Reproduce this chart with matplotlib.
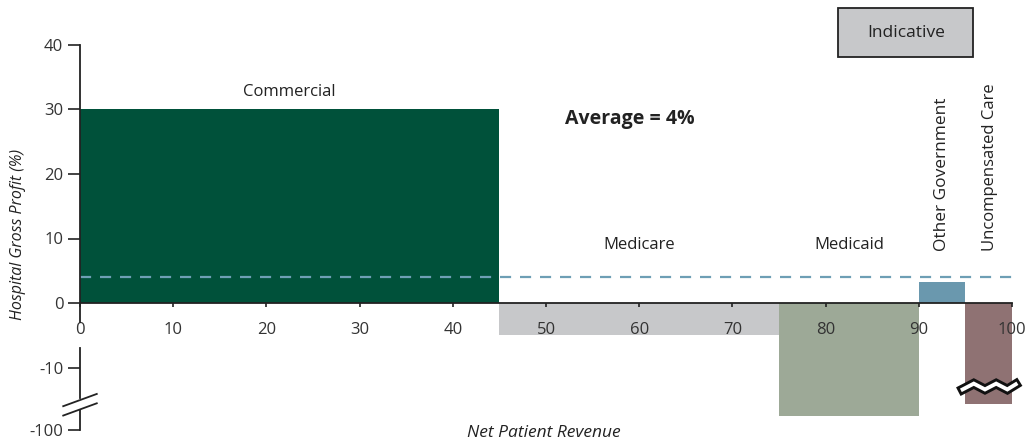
import numpy as np
import matplotlib.pyplot as plt
from matplotlib.patches import Rectangle

plt.rcParams['font.family'] = ['Open Sans', 'DejaVu Sans']

# Payer mix: share of net patient revenue (%) and gross profit (%)
payers = ['Commercial', 'Medicare', 'Medicaid', 'Other Government', 'Uncompensated Care']
shares = [45, 30, 15, 5, 5]
profits = [30, -5, -17.5, 3.2, -100]
colors = ['#00513A', '#C7C8CA', '#9DA997', '#6A98AE', '#8F7273']
average = 4

x_ticks = [0, 10, 20, 30, 40, 50, 60, 70, 80, 90, 100]
y_ticks = [40, 30, 20, 10, 0, -10, -100]

# broken axis: values below the break are drawn at a fixed depth
BREAK_POS = -19.7   # where "-100" sits on the linear scale
BAR_CLIP = -15.6    # where broken bars end


def to_axis(v):
    if v == -100:
        return BREAK_POS
    return v


fig = plt.figure(figsize=(10.26, 4.43), dpi=100)
px_per_unit = 6.45
y_top, y_bot = 42, -20.6
top_px = 303 - y_top * px_per_unit
bot_px = 303 - y_bot * px_per_unit
ax = fig.add_axes([80 / 1026, 1 - bot_px / 443, 932 / 1026, (bot_px - top_px) / 443])
ax.set_xlim(0, 100)
ax.set_ylim(y_bot, y_top)

lefts = np.concatenate([[0], np.cumsum(shares)[:-1]])
for left, w, p, c in zip(lefts, shares, profits, colors):
    h = BAR_CLIP if p < -50 else p
    ax.bar(left, h, width=w, align='edge', color=c, zorder=1)

# zigzag break on the uncompensated care bar
zx = np.array([94.7, 95.9, 97.1, 98.3, 99.5, 100.4])
zy = np.array([-13.4, -12.5, -13.4, -12.5, -13.4, -12.6])
ax.plot(zx, zy, color='#111111', lw=7, solid_joinstyle='miter', zorder=3, clip_on=False)
ax.plot(zx, zy, color='white', lw=2.8, solid_joinstyle='miter', zorder=4, clip_on=False)

# average line
ax.axhline(average, color='#6E9FB5', lw=1.6, ls=(0, (5, 4)), zorder=2)

# axes
for s in ['top', 'right', 'left']:
    ax.spines[s].set_visible(False)
ax.spines['bottom'].set_position(('data', 0))
ax.spines['bottom'].set_color('#222222')
ax.spines['bottom'].set_linewidth(1.3)
ax.spines['bottom'].set_zorder(5)

ax.set_xticks(x_ticks)
ax.set_xticklabels([str(t) for t in x_ticks])
ax.tick_params(axis='x', length=3, width=1.2, color='#222222', pad=11,
               labelsize=12, labelcolor='#333333')
ax.set_yticks([to_axis(v) for v in y_ticks])
ax.set_yticklabels([str(v) for v in y_ticks])
ax.tick_params(axis='y', length=9, width=1.2, color='#222222', pad=3,
               labelsize=12, labelcolor='#333333')
for lbl in ax.get_xticklabels():
    lbl.set_zorder(6)

# left spine with gaps
for y0, y1 in [(y_top - 2, -2.9), (-7.0, -14.7), (-16.6, BREAK_POS)]:
    ax.plot([0, 0], [y0, y1], color='#222222', lw=1.3, clip_on=False, zorder=5)
for dy in [0, -1.45]:
    ax.plot([-1.8, 1.8], [-16.0 + dy, -14.1 + dy], color='#222222', lw=1.3,
            clip_on=False, zorder=5)

# annotations
ax.text(22.5, 31.4, 'Commercial', ha='center', va='bottom', fontsize=12, color='#222222')
ax.text(59, 28.6, 'Average = 4%', ha='center', va='center', fontsize=14,
        fontweight='bold', color='#222222')
ax.text(60, 9, 'Medicare', ha='center', va='center', fontsize=12, color='#222222')
ax.text(82.5, 9, 'Medicaid', ha='center', va='center', fontsize=12, color='#222222')
ax.text(92.5, 8.0, 'Other Government', ha='center', va='bottom', rotation=90,
        fontsize=12.5, color='#222222')
ax.text(97.6, 8.0, 'Uncompensated Care', ha='center', va='bottom', rotation=90,
        fontsize=12, color='#222222')

fig.text(18 / 1026, 1 - 234 / 443, 'Hospital Gross Profit (%)', rotation=90,
         ha='center', va='center', fontsize=11.5, style='italic', color='#222222')
fig.text(544 / 1026, 1 - 433 / 443, 'Net Patient Revenue', ha='center', va='center',
         fontsize=12.5, style='italic', color='#222222')

# "Indicative" box
fig.patches.append(Rectangle((838 / 1026, 1 - 57 / 443), 135 / 1026, 49 / 443,
                             transform=fig.transFigure, facecolor='#C7C8CA',
                             edgecolor='#222222', lw=1.3))
fig.text(906 / 1026, 1 - 33 / 443, 'Indicative', ha='center', va='center',
         fontsize=12.5, color='#222222')

fig.savefig('out.png', dpi=100)
